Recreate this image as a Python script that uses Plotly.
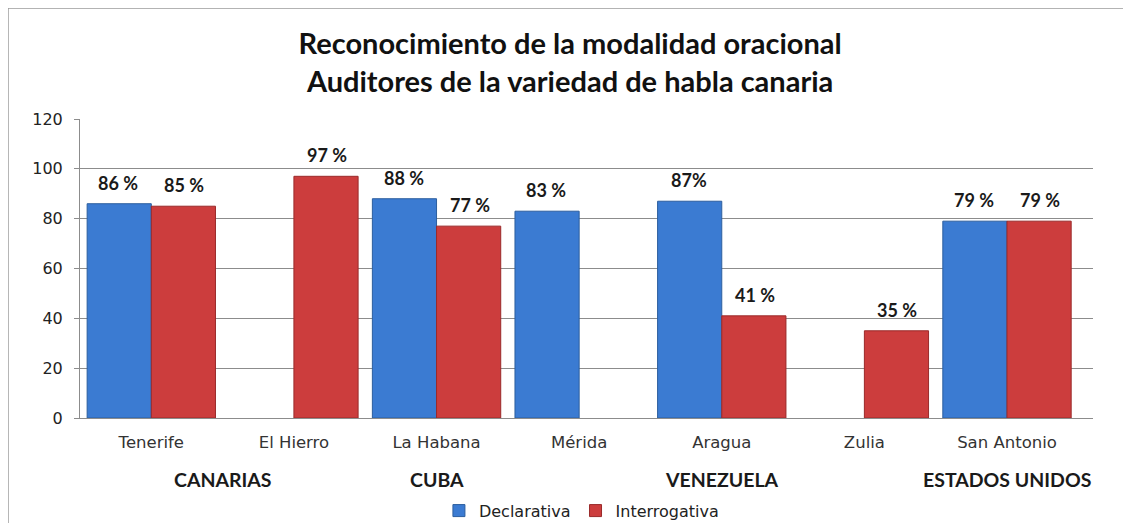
import plotly.graph_objects as go

# Data
ciudades = ["Tenerife", "El Hierro", "La Habana", "Mérida", "Aragua", "Zulia", "San Antonio"]
declarativa = [86, None, 88, 83, 87, None, 79]
interrogativa = [85, 97, 77, None, 41, 35, 79]
etiq_decl = ["86 %", "", "88 %", "83 %", "87%", "", "79 %"]
etiq_inter = ["85 %", "97 %", "77 %", "", "41 %", "35 %", "79 %"]
paises = ["CANARIAS", "CUBA", "VENEZUELA", "ESTADOS UNIDOS"]
paises_pos = [0.5, 2, 4, 6]

AZUL = "#3b7bd2"
ROJO = "#cc3d3d"
TXT = "Lato"

fig = go.Figure()
fig.add_trace(go.Bar(x=ciudades, y=declarativa, name="Declarativa",
                     marker=dict(color=AZUL, line=dict(color="#2c5e9e", width=1))))
fig.add_trace(go.Bar(x=ciudades, y=interrogativa, name="Interrogativa",
                     marker=dict(color=ROJO, line=dict(color="#9a2a2a", width=1))))

# value labels above each bar
annots = []
for c, v, t in zip(ciudades, declarativa, etiq_decl):
    if v is not None:
        annots.append(dict(x=c, y=v, text=t, xref="x", yref="y", showarrow=False,
                           yanchor="bottom", xshift=-33, yshift=8,
                           font=dict(family=TXT, size=18, color="#1a1a1a", weight="bold")))
for c, v, t in zip(ciudades, interrogativa, etiq_inter):
    if v is not None:
        annots.append(dict(x=c, y=v, text=t, xref="x", yref="y", showarrow=False,
                           yanchor="bottom", xshift=33, yshift=8,
                           font=dict(family=TXT, size=18, color="#1a1a1a", weight="bold")))

# country group labels
for p, pos in zip(paises, paises_pos):
    annots.append(dict(x=pos, y=-0.207, xref="x", yref="paper", text=p, showarrow=False,
                       yanchor="middle", font=dict(family=TXT, size=19.5, color="#1a1a1a", weight="bold")))

# page body adds an 8px offset, so margins are trimmed by 8px on left/top
fig.update_layout(
    width=1131, height=523,
    margin=dict(l=72, r=46, t=111, b=113, autoexpand=False),
    paper_bgcolor="white", plot_bgcolor="white",
    barmode="group", bargap=0.1, bargroupgap=0,
    title=dict(text="<b>Reconocimiento de la modalidad oracional<br>Auditores de la variedad de habla canaria</b>",
               x=0.497, xanchor="center", y=0.912, yanchor="top",
               font=dict(family=TXT, size=29, color="#111111")),
    annotations=annots,
    showlegend=True,
    legend=dict(orientation="h", x=0.495, xanchor="center", y=-0.31, yanchor="middle",
                font=dict(family="DejaVu Sans", size=16, color="#222222"),
                itemwidth=30, tracegroupgap=0),
    shapes=[
        dict(type="line", xref="paper", yref="paper", x0=-0.0711, x1=1.06, y0=1.371, y1=1.371,
             line=dict(color="#9a9a9a", width=1.5)),
        dict(type="line", xref="paper", yref="paper", x0=-0.0711, x1=-0.0711, y0=1.371, y1=-0.4,
             line=dict(color="#9a9a9a", width=1.5)),
    ],
)

fig.update_xaxes(showgrid=False, showline=True, linecolor="#8c8c8c", linewidth=1,
                 ticks="", ticklabelstandoff=9,
                 tickfont=dict(family="DejaVu Sans", size=16.5, color="#333333"))
fig.update_yaxes(range=[0, 120], dtick=20, showgrid=True, gridcolor="#8c8c8c", gridwidth=1,
                 showline=True, linecolor="#8c8c8c", linewidth=1,
                 ticks="outside", ticklen=5, tickcolor="#8c8c8c", ticklabelstandoff=8,
                 tickfont=dict(family="DejaVu Sans", size=16, color="#222222"),
                 zeroline=False)

fig.write_html("out.html")
